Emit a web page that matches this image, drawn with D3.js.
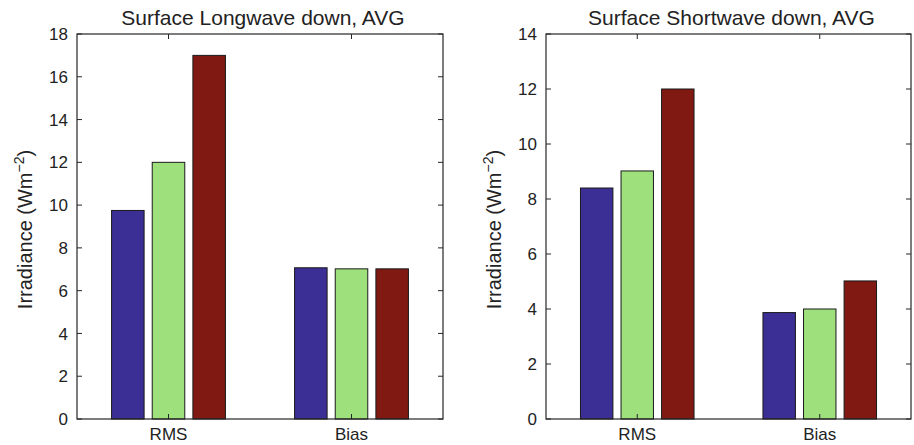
<!DOCTYPE html>
<html>
<head>
<meta charset="utf-8">
<script src="https://cdn.jsdelivr.net/npm/d3@7"></script>
<style>
  html, body { margin: 0; padding: 0; background: #fff; }
  svg { display: block; }
  text { font-family: "Liberation Sans", Arial, Helvetica, sans-serif; fill: #222; }
</style>
</head>
<body>
<svg id="chart" width="914" height="445"></svg>
<script>
// ---- Data ----
const categories = ["RMS", "Bias"];
const seriesColors = ["#3b2e94", "#9de07c", "#7f1912"];
const longwaveValues = [
  [9.75, 7.07],   // series 1 (blue)
  [12.0, 7.02],   // series 2 (green)
  [17.0, 7.02]    // series 3 (red)
];
const shortwaveValues = [
  [8.4, 3.87],
  [9.02, 4.0],
  [12.0, 5.02]
];
const longwaveTicks = [0, 2, 4, 6, 8, 10, 12, 14, 16, 18];
const shortwaveTicks = [0, 2, 4, 6, 8, 10, 12, 14];
const titles = ["Surface Longwave down, AVG", "Surface Shortwave down, AVG"];

const svg = d3.select("#chart");

function panel(opts) {
  const { left, right, top, bottom, values, ticks, ymax, title, labelX } = opts;
  const g = svg.append("g");
  const x = d3.scaleLinear().domain([0.5, categories.length + 0.5]).range([left, right]);
  const y = d3.scaleLinear().domain([0, ymax]).range([bottom, top]);

  const nSeries = values.length;
  const groupWidth = Math.min(0.8, nSeries / (nSeries + 1.5));
  const barW = groupWidth / nSeries * 0.8;

  // bars
  values.forEach((ser, si) => {
    const off = (si - (nSeries - 1) / 2) * groupWidth / nSeries;
    g.selectAll(null).data(ser).enter().append("rect")
      .attr("x", (d, i) => x(i + 1 + off - barW / 2))
      .attr("width", (d, i) => x(i + 1 + off + barW / 2) - x(i + 1 + off - barW / 2))
      .attr("y", d => y(d))
      .attr("height", d => y(0) - y(d))
      .attr("fill", seriesColors[si])
      .attr("stroke", "#1a1a1a")
      .attr("stroke-width", 1);
  });

  const axisColor = "#262626";
  const tl = 5;
  // box
  g.append("rect")
    .attr("x", left).attr("y", top)
    .attr("width", right - left).attr("height", bottom - top)
    .attr("fill", "none").attr("stroke", axisColor).attr("stroke-width", 1.2);

  // y ticks (inside, both sides)
  ticks.forEach(t => {
    g.append("line").attr("x1", left).attr("x2", left + tl)
      .attr("y1", y(t)).attr("y2", y(t)).attr("stroke", axisColor);
    g.append("line").attr("x1", right).attr("x2", right - tl)
      .attr("y1", y(t)).attr("y2", y(t)).attr("stroke", axisColor);
    g.append("text").attr("x", left - 9).attr("y", y(t))
      .attr("dy", "0.36em").attr("text-anchor", "end")
      .attr("font-size", 17).text(t);
  });

  // x ticks (inside, top and bottom) and labels
  categories.forEach((c, i) => {
    g.append("line").attr("x1", x(i + 1)).attr("x2", x(i + 1))
      .attr("y1", top).attr("y2", top + tl).attr("stroke", axisColor);
    g.append("line").attr("x1", x(i + 1)).attr("x2", x(i + 1))
      .attr("y1", bottom).attr("y2", bottom - tl).attr("stroke", axisColor);
    g.append("text").attr("x", x(i + 1)).attr("y", bottom + 21)
      .attr("text-anchor", "middle").attr("font-size", 17).text(c);
  });

  // title
  g.append("text").attr("x", (left + right) / 2 + 3).attr("y", 25)
    .attr("text-anchor", "middle").attr("font-size", 21).text(title);

  // y label
  const yl = g.append("text")
    .attr("transform", `translate(${labelX},${(top + bottom) / 2 + 3}) rotate(-90)`)
    .attr("text-anchor", "middle").attr("font-size", 20);
  yl.append("tspan").text("Irradiance (Wm");
  yl.append("tspan").attr("font-size", 14).attr("dy", "-0.55em").text("\u22122");
  yl.append("tspan").attr("dy", "0.38em").text(")");
}

panel({ left: 77, right: 443, top: 34, bottom: 419, values: longwaveValues,
        ticks: longwaveTicks, ymax: 18, title: titles[0], labelX: 32 });
panel({ left: 546, right: 911, top: 34, bottom: 419, values: shortwaveValues,
        ticks: shortwaveTicks, ymax: 14, title: titles[1], labelX: 501 });
</script>
</body>
</html>
